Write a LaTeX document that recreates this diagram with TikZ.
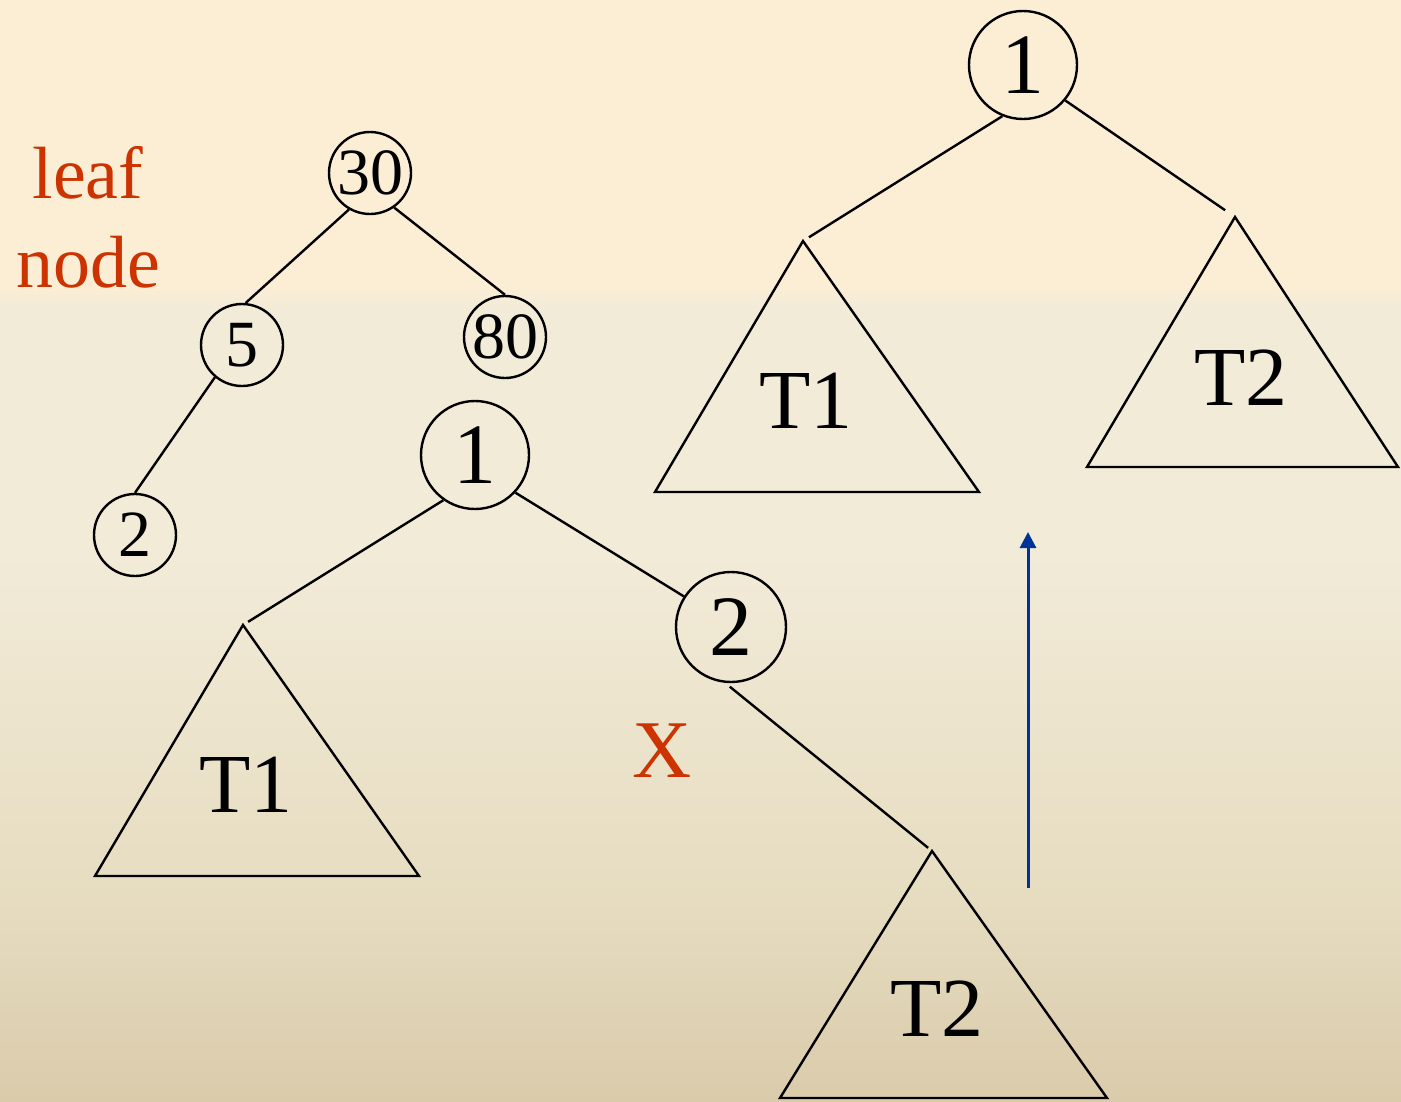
\documentclass[tikz,border=0pt]{standalone}
\usepackage{fontspec}
\setmainfont{Liberation Serif}
\usetikzlibrary{arrows.meta}

\definecolor{leafred}{RGB}{204,51,0}
\definecolor{arrowblue}{RGB}{0,51,153}
\definecolor{bgtop}{RGB}{252,238,213}
\definecolor{bgmid}{RGB}{242,235,216}
\definecolor{bglow}{RGB}{230,220,192}
\definecolor{bgbot}{RGB}{218,203,171}

% the path is fitted to the band 25bp--75bp of the shading
\pgfdeclareverticalshading{slidebg}{100bp}{%
  color(0bp)=(bgbot); color(25bp)=(bgbot); color(34bp)=(bglow); color(50bp)=(bgmid);
  color(61bp)=(bgmid); color(62bp)=(bgtop); color(75bp)=(bgtop); color(100bp)=(bgtop)}

\begin{document}
\begin{tikzpicture}[x=1pt, y=-1pt,
    small/.style={circle, draw, line width=2.4pt, minimum size=82pt, inner sep=0pt,
      font=\fontsize{66}{66}\selectfont},
    big/.style={circle, draw, line width=2.4pt, minimum size=108pt, inner sep=0pt,
      font=\fontsize{86}{86}\selectfont},
    edge/.style={line width=2.4pt},
    tri/.style={line width=2.4pt},
    tlabel/.style={anchor=base, font=\fontsize{84}{84}\selectfont},
    redlabel/.style={anchor=base, text=leafred, font=\fontsize{74}{74}\selectfont}]

\fill[shading=slidebg] (0,0) rectangle (1401,1101);
\useasboundingbox (0,0) rectangle (1401,1101);

% small tree
\node (n30) [small] at (370,173) {30};
\node (n5)  [small] at (242,345) {5};
\node (n80) [small] at (505,337) {80};
\node (n2)  [small] at (135,535) {2};
\node (leaf) [redlabel] at (88,198) {leaf};
\node (lnode) [redlabel] at (88,287) {node};

\path [edge]
     (n30.240) edge (n5.85)
     (n30.305) edge (n80.north)
     (n5.230) edge (n2.north);

% before the rotation
\node (m1) [big] at (475,455) {1};
\node (m2) [big, minimum size=110pt] at (731,627) {2};
\coordinate (t1a) at (243,625);
\coordinate (t2a) at (932,851);
\draw [tri] (t1a) -- (95,876) -- (419,876) -- cycle;
\draw [tri] (t2a) -- (780,1098) -- (1107,1098) -- cycle;
\node (t1) [tlabel] at (246,812) {T1};
\node (t2) [tlabel] at (937,1036) {T2};
\node (x) [redlabel, font=\fontsize{82}{82}\selectfont] at (662,777) {X};

\path [edge]
     (m1.235) edge[shorten >=6pt] (t1a)
     (m1.317) edge (m2.147)
     (m2.264) edge[shorten <=6pt, shorten >=5pt] (t2a);

% after the rotation
\node (r1) [big] at (1023,65) {1};
\coordinate (u1a) at (803,241);
\coordinate (u2a) at (1235,217);
\draw [tri] (u1a) -- (655,492) -- (979,492) -- cycle;
\draw [tri] (u2a) -- (1087,467) -- (1398,467) -- cycle;
\node (u1) [tlabel] at (806,428) {T1};
\node (u2) [tlabel] at (1241,405) {T2};

\path [edge]
     (r1.248) edge[shorten >=7pt] (u1a)
     (r1.320) edge[shorten >=12pt] (u2a);

% arrow
\coordinate (arrS) at (1028,888);
\coordinate (arrE) at (1028,532);
\draw [arrowblue, line width=3pt, -{Triangle[length=16pt, width=16pt]}] (arrS) -- (arrE);
\end{tikzpicture}
\end{document}
